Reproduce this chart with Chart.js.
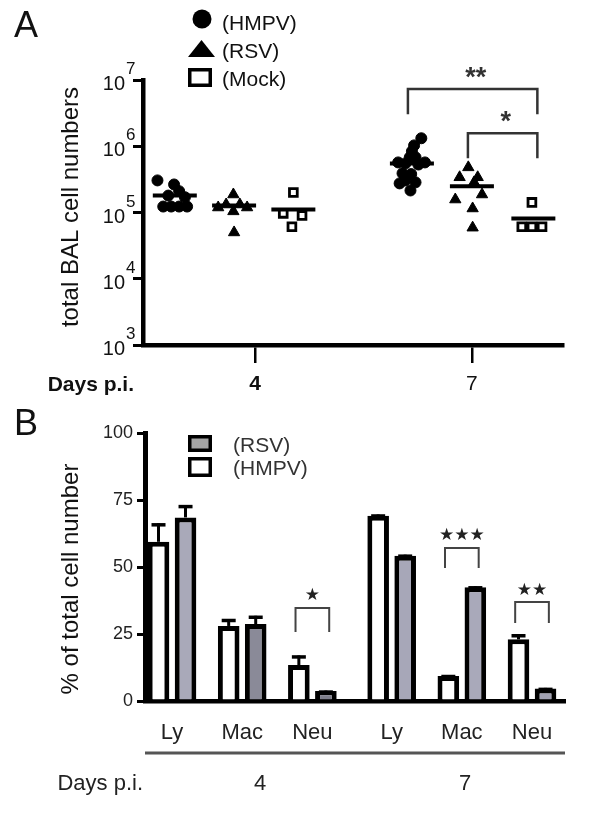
<!DOCTYPE html>
<html>
<head>
<meta charset="utf-8">
<script src="https://cdn.jsdelivr.net/npm/chart.js@4.4.1/dist/chart.umd.min.js"></script>
<style>
html, body { margin: 0; padding: 0; background: #fff; }
#wrap { position: relative; width: 600px; height: 816px; overflow: hidden; }
canvas { position: absolute; left: 0; }
</style>
</head>
<body>
<div id="wrap">
  <canvas id="panelA" width="600" height="400" style="top:0"></canvas>
  <canvas id="panelB" width="600" height="416" style="top:400px"></canvas>
</div>
<script>
// ---- Panel A: total BAL cell numbers (log scale) ----
var dayTicks = [4, 7];
var decades = [3, 4, 5, 6, 7];
// group centres: HMPV4, RSV4, Mock4, HMPV7, RSV7, Mock7
var groupX = [2.89, 3.71, 4.53, 6.17, 7.0, 7.85];
var medians = [1.81e5, 1.28e5, 1.11e5, 5.5e5, 2.5e5, 8.1e4];

var hmpv4X = [2.65, 2.88, 2.95, 2.80, 3.03, 2.73, 2.84, 2.95, 3.06];
var hmpv4Y = [3.05e5, 2.65e5, 2.1e5, 1.8e5, 1.7e5, 1.23e5, 1.23e5, 1.23e5, 1.23e5];
var rsv4X = [3.70, 3.60, 3.79, 3.49, 3.89, 3.70, 3.71];
var rsv4Y = [1.87e5, 1.32e5, 1.32e5, 1.19e5, 1.19e5, 1.04e5, 5.0e4];
var mock4X = [4.53, 4.39, 4.65, 4.51];
var mock4Y = [2.0e5, 9.7e4, 9.0e4, 6.1e4];

var hmpv7X = [6.30, 6.20, 6.17, 6.14, 6.22, 5.98, 6.08, 6.26, 6.35, 6.04, 6.16, 6.08, 6.22, 6.00, 6.15];
var hmpv7Y = [1.32e6, 1.03e6, 8.4e5, 6.8e5, 6.8e5, 5.7e5, 5.5e5, 5.3e5, 5.7e5, 3.9e5, 3.8e5, 3.05e5, 2.85e5, 2.75e5, 2.15e5];
var rsv7X = [6.95, 6.83, 7.08, 7.03, 7.14, 6.77, 7.01, 7.01];
var rsv7Y = [4.8e5, 3.4e5, 3.4e5, 2.85e5, 1.87e5, 1.57e5, 1.15e5, 5.9e4];
var mock7X = [7.83, 7.69, 7.83, 7.97];
var mock7Y = [1.42e5, 6.1e4, 6.1e4, 6.1e4];

// significance brackets (group index from / to)
var sigAFrom = [3, 4];
var sigATo = [5, 5];
var sigATop = [7.3e6, 1.57e6];
var sigAFoot = [3.05e6, 6.6e5];
var sigAText = ["**", "*"];

// ---- Panel B: % of total cell number ----
var cellTypes = ["Ly", "Mac", "Neu", "Ly", "Mac", "Neu"];
var cellSlots = [0, 1, 2, 3.13, 4.13, 5.13];
var hmpvPct = [59.4, 28.0, 13.4, 69.1, 9.3, 23.0];
var hmpvErr = [66.3, 30.6, 17.0, 69.6, 9.7, 24.9];
var rsvPct = [68.5, 28.7, 3.7, 54.2, 42.4, 4.7];
var rsvErr = [73.1, 31.8, 3.9, 54.6, 42.8, 4.9];
var rsvFill = ["#a9a9b9", "#8a8a98", "#7f7f8c", "#a7a7b8", "#a9a9ba", "#a2a2b3"];

var sigBSlot = [2, 4, 5];
var sigBTop = [34.7, 57.1, 36.9];
var sigBFoot = [25.7, 49.6, 29.1];
var sigBText = ["\u2605", "\u2605\u2605\u2605", "\u2605\u2605"];

var FONT = '"Liberation Sans", Arial, sans-serif';

function toPts(xs, ys) {
    return ys.map(function (v, i) { return { x: xs[i], y: v }; });
}

var circleStyle = { pointStyle: "circle", pointRadius: 5.5, pointBackgroundColor: "#000", pointBorderColor: "#000", pointBorderWidth: 1 };
var triStyle = { pointStyle: "triangle", pointRadius: 6.5, pointBackgroundColor: "#000", pointBorderColor: "#000", pointBorderWidth: 1 };
var sqStyle = { pointStyle: "rect", pointRadius: 5.5, pointBackgroundColor: "#fff", pointBorderColor: "#000", pointBorderWidth: 2.8 };

function ds(label, pts, style) {
    return Object.assign({ label: label, data: pts, showLine: false }, style);
}

// Panel A text, legend, tick labels and brackets
var panelAText = {
    id: "panelAText",
    afterDraw: function (chart) {
        var ctx = chart.ctx, x = chart.scales.x, y = chart.scales.y;
        ctx.save();

        ctx.fillStyle = "#111";
        ctx.font = "36px " + FONT;
        ctx.textAlign = "left";
        ctx.textBaseline = "alphabetic";
        ctx.fillText("A", 14, 37);

        // legend
        ctx.fillStyle = "#000";
        ctx.beginPath();
        ctx.arc(202, 19, 9.5, 0, Math.PI * 2);
        ctx.fill();
        ctx.beginPath();
        ctx.moveTo(188, 57);
        ctx.lineTo(215, 57);
        ctx.lineTo(201.5, 40);
        ctx.closePath();
        ctx.fill();
        ctx.lineWidth = 3.5;
        ctx.strokeStyle = "#000";
        ctx.strokeRect(189.75, 69.75, 20.5, 15.5);

        ctx.fillStyle = "#111";
        ctx.font = "21px " + FONT;
        ctx.fillText("(HMPV)", 222, 30);
        ctx.fillText("(RSV)", 222, 58);
        ctx.fillText("(Mock)", 222, 86);

        // y tick labels 10^n
        decades.forEach(function (e) {
            var py = y.getPixelForValue(Math.pow(10, e));
            ctx.font = "20px " + FONT;
            ctx.textAlign = "right";
            ctx.fillText("10", 125, py + 10);
            ctx.font = "17px " + FONT;
            ctx.textAlign = "left";
            ctx.fillText(String(e), 126, py - 6);
        });

        // axis title
        ctx.save();
        ctx.translate(78, 207);
        ctx.rotate(-Math.PI / 2);
        ctx.textAlign = "center";
        ctx.font = "24px " + FONT;
        ctx.fillText("total BAL cell numbers", 0, 0);
        ctx.restore();

        ctx.textAlign = "right";
        ctx.font = "bold 21px " + FONT;
        ctx.fillText("Days p.i.", 134, 391);

        // brackets
        ctx.strokeStyle = "#333";
        ctx.lineWidth = 2.5;
        for (var i = 0; i < sigAText.length; i++) {
            var x1 = x.getPixelForValue(groupX[sigAFrom[i]]) - 4;
            var x2 = x.getPixelForValue(groupX[sigATo[i]]) + 4;
            var yt = y.getPixelForValue(sigATop[i]);
            var yf = y.getPixelForValue(sigAFoot[i]);
            ctx.beginPath();
            ctx.moveTo(x1, yf);
            ctx.lineTo(x1, yt);
            ctx.lineTo(x2, yt);
            ctx.lineTo(x2, yf);
            ctx.stroke();
            ctx.textAlign = "center";
            ctx.font = "bold 27px " + FONT;
            ctx.fillStyle = "#333";
            ctx.fillText(sigAText[i], (x1 + x2) / 2 + 3, yt - 3);
        }
        ctx.restore();
    }
};

new Chart(document.getElementById("panelA"), {
    type: "scatter",
    data: {
        datasets: [
            ds("median", toPts(groupX, medians), { pointStyle: "line", pointRadius: 22, pointBorderColor: "#000", pointBorderWidth: 4 }),
            ds("HMPV d4", toPts(hmpv4X, hmpv4Y), circleStyle),
            ds("RSV d4", toPts(rsv4X, rsv4Y), triStyle),
            ds("Mock d4", toPts(mock4X, mock4Y), sqStyle),
            ds("HMPV d7", toPts(hmpv7X, hmpv7Y), circleStyle),
            ds("RSV d7", toPts(rsv7X, rsv7Y), triStyle),
            ds("Mock d7", toPts(mock7X, mock7Y), sqStyle)
        ]
    },
    options: {
        responsive: false,
        animation: false,
        events: [],
        layout: { padding: { top: 80, right: 37, left: 0, bottom: 0 } },
        plugins: { legend: { display: false }, tooltip: { enabled: false } },
        scales: {
            x: {
                type: "linear",
                min: 2.45,
                max: 8.26,
                afterBuildTicks: function (s) { s.ticks = dayTicks.map(function (v) { return { value: v }; }); },
                afterFit: function (s) { s.height = 55; },
                grid: { drawOnChartArea: false, tickLength: 18, lineWidth: 2.5, color: "#000" },
                border: { color: "#000", width: 4.5 },
                ticks: {
                    padding: 9,
                    color: "#111",
                    font: function (c) {
                        return { family: FONT, size: 21, weight: (c.tick && c.tick.value === 4) ? "bold" : "normal" };
                    },
                    callback: function (v) { return v; }
                }
            },
            y: {
                type: "logarithmic",
                min: 1e3,
                max: 1e7,
                afterBuildTicks: function (s) { s.ticks = decades.map(function (e) { return { value: Math.pow(10, e) }; }); },
                afterFit: function (s) { s.width = 143; },
                grid: { drawOnChartArea: false, tickLength: 10, lineWidth: 3, color: "#000" },
                border: { color: "#000", width: 4.5 },
                ticks: { display: false }
            }
        }
    },
    plugins: [panelAText]
});

// Panel B error bars, legend and labels
var panelBExtras = {
    id: "panelBExtras",
    afterDatasetsDraw: function (chart) {
        var ctx = chart.ctx, y = chart.scales.y;
        var errs = [hmpvErr, rsvErr];
        ctx.save();
        ctx.strokeStyle = "#000";
        ctx.lineWidth = 3;
        errs.forEach(function (err, d) {
            chart.getDatasetMeta(d).data.forEach(function (bar, i) {
                var yt = y.getPixelForValue(err[i]);
                ctx.beginPath();
                ctx.moveTo(bar.x, bar.y);
                ctx.lineTo(bar.x, yt);
                ctx.stroke();
                ctx.lineWidth = 3.5;
                ctx.beginPath();
                ctx.moveTo(bar.x - 7, yt + 1.5);
                ctx.lineTo(bar.x + 7, yt + 1.5);
                ctx.stroke();
                ctx.lineWidth = 3;
            });
        });
        ctx.restore();
    },
    afterDraw: function (chart) {
        var ctx = chart.ctx, x = chart.scales.x, y = chart.scales.y;
        ctx.save();
        ctx.fillStyle = "#111";
        ctx.font = "36px " + FONT;
        ctx.textBaseline = "alphabetic";
        ctx.fillText("B", 14, 35);

        // legend
        ctx.lineWidth = 3.5;
        ctx.strokeStyle = "#000";
        ctx.fillStyle = "#a5a5a5";
        ctx.fillRect(189.75, 36.75, 20.5, 13.5);
        ctx.strokeRect(189.75, 36.75, 20.5, 13.5);
        ctx.fillStyle = "#fff";
        ctx.fillRect(189.75, 58.75, 20.5, 16.5);
        ctx.strokeRect(189.75, 58.75, 20.5, 16.5);
        ctx.fillStyle = "#333";
        ctx.font = "21px " + FONT;
        ctx.fillText("(RSV)", 233, 52);
        ctx.fillText("(HMPV)", 233, 75);

        // axis title
        ctx.save();
        ctx.fillStyle = "#111";
        ctx.translate(78, 179);
        ctx.rotate(-Math.PI / 2);
        ctx.textAlign = "center";
        ctx.font = "24px " + FONT;
        ctx.fillText("% of total cell number", 0, 0);
        ctx.restore();

        // underline and day labels
        ctx.strokeStyle = "#555";
        ctx.lineWidth = 3;
        ctx.beginPath();
        ctx.moveTo(chart.chartArea.left, 353);
        ctx.lineTo(chart.chartArea.right, 353);
        ctx.stroke();

        ctx.fillStyle = "#222";
        ctx.font = "22px " + FONT;
        ctx.textAlign = "right";
        ctx.fillText("Days p.i.", 143, 390);
        ctx.textAlign = "center";
        ctx.fillText("4", 260, 390);
        ctx.fillText("7", 465, 390);

        // brackets
        ctx.strokeStyle = "#444";
        ctx.lineWidth = 2;
        for (var i = 0; i < sigBText.length; i++) {
            var x1 = x.getPixelForValue(cellSlots[sigBSlot[i]] - 0.24);
            var x2 = x.getPixelForValue(cellSlots[sigBSlot[i]] + 0.24);
            var yt = y.getPixelForValue(sigBTop[i]);
            var yf = y.getPixelForValue(sigBFoot[i]);
            ctx.beginPath();
            ctx.moveTo(x1, yf);
            ctx.lineTo(x1, yt);
            ctx.lineTo(x2, yt);
            ctx.lineTo(x2, yf);
            ctx.stroke();
            ctx.fillStyle = "#222";
            ctx.font = '17px "DejaVu Sans"';
            ctx.textBaseline = "middle";
            ctx.fillText(sigBText[i], (x1 + x2) / 2, yt - 12);
            ctx.textBaseline = "alphabetic";
        }
        ctx.restore();
    }
};

new Chart(document.getElementById("panelB"), {
    type: "bar",
    data: {
        datasets: [
            { label: "(HMPV)", data: toPts(cellSlots, hmpvPct), backgroundColor: "#fff", borderColor: "#000", borderWidth: 5, categoryPercentage: 0.77, barPercentage: 0.8 },
            { label: "(RSV)", data: toPts(cellSlots, rsvPct), backgroundColor: rsvFill, borderColor: "#000", borderWidth: 5, categoryPercentage: 0.77, barPercentage: 0.8 }
        ]
    },
    options: {
        responsive: false,
        animation: false,
        events: [],
        layout: { padding: { top: 33, right: 35, left: 0, bottom: 0 } },
        plugins: { legend: { display: false }, tooltip: { enabled: false } },
        scales: {
            x: {
                type: "linear",
                offset: false,
                min: -0.385,
                max: 5.60,
                afterBuildTicks: function (s) { s.ticks = cellSlots.map(function (v) { return { value: v }; }); },
                afterFit: function (s) { s.height = 115; },
                grid: { display: true, offset: false, drawOnChartArea: false, drawTicks: false },
                border: { color: "#000", width: 4.5 },
                ticks: {
                    autoSkip: false,
                    maxRotation: 0,
                    padding: 19,
                    color: "#222",
                    font: { family: FONT, size: 22 },
                    callback: function (v, i) { return cellTypes[i]; }
                }
            },
            y: {
                min: 0,
                max: 100,
                afterFit: function (s) { s.width = 145; },
                grid: { drawOnChartArea: false, tickLength: 8, lineWidth: 3, color: "#000" },
                border: { color: "#000", width: 5 },
                ticks: { stepSize: 25, padding: 4, color: "#222", font: { family: FONT, size: 18 } }
            }
        }
    },
    plugins: [panelBExtras]
});
</script>
</body>
</html>
